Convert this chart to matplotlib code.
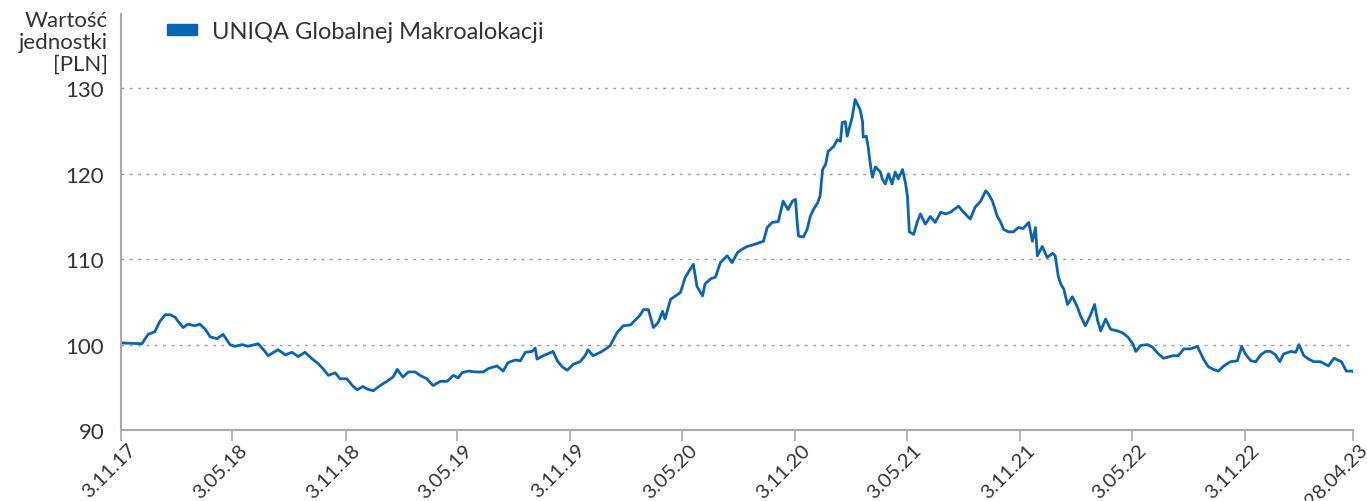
import matplotlib
matplotlib.use("Agg")
import matplotlib.pyplot as plt
import matplotlib.transforms as mtransforms
import pandas as pd

plt.rcParams['font.family'] = ['Lato', 'DejaVu Sans']

# fund unit value (days since 3.11.2017, PLN)
start_date = "2017-11-03"
day_offsets = [
    0, 34, 44, 55, 63, 72, 80, 88, 93, 101, 109, 120, 128, 137, 145, 156, 166,
    177, 185, 197, 206, 223, 234, 239, 255, 267, 278, 288, 299, 311, 320, 328,
    337, 348, 356, 367, 376, 384, 393, 400, 410, 421, 432, 442, 449, 458, 467,
    478, 486, 497, 507, 519, 530, 540, 548, 554, 564, 576, 589, 597, 611, 621,
    629, 641, 649, 657, 668, 673, 676, 686, 693, 702, 709, 717, 725, 735, 746,
    754, 759, 767, 779, 792, 795, 806, 816, 828, 836, 844, 849, 857, 865, 873,
    880, 884, 893, 901, 909, 917, 923, 930, 936, 945, 949, 958, 966, 974, 985,
    993, 1002, 1010, 1018, 1028, 1036, 1044, 1050, 1058, 1068, 1076, 1084, 1091,
    1096, 1099, 1101, 1109, 1115, 1120, 1125, 1132, 1136, 1140, 1145, 1149,
    1158, 1164, 1169, 1172, 1177, 1180, 1185, 1188, 1193, 1197, 1201, 1205,
    1206, 1211, 1214, 1218, 1221, 1226, 1234, 1237, 1242, 1247, 1253, 1258,
    1263, 1270, 1275, 1278, 1281, 1288, 1294, 1299, 1307, 1315, 1323, 1332,
    1340, 1348, 1353, 1361, 1369, 1380, 1388, 1397, 1405, 1410, 1416, 1424,
    1429, 1434, 1442, 1450, 1458, 1466, 1475, 1481, 1486, 1489, 1497, 1505,
    1514, 1518, 1523, 1527, 1532, 1538, 1546, 1554, 1559, 1567, 1575, 1582,
    1587, 1592, 1600, 1608, 1619, 1627, 1636, 1644, 1649, 1657, 1668, 1676,
    1686, 1694, 1709, 1718, 1727, 1738, 1749, 1759, 1767, 1775, 1783, 1792,
    1803, 1814, 1821, 1827, 1836, 1844, 1852, 1860, 1868, 1876, 1883, 1889,
    1901, 1909, 1914, 1922, 1930, 1938, 1949, 1962, 1971, 1983, 1991, 2000, 2003,
]
unit_values = [
    100.2, 100.1, 101.2, 101.5, 102.7, 103.5, 103.5, 103.2, 102.7, 102.0, 102.4,
    102.2, 102.4, 101.8, 100.9, 100.7, 101.2, 100.0, 99.8, 100.0, 99.8, 100.1,
    99.2, 98.7, 99.4, 98.8, 99.1, 98.6, 99.1, 98.3, 97.8, 97.2, 96.4, 96.7, 96.0,
    96.0, 95.2, 94.7, 95.1, 94.8, 94.6, 95.2, 95.7, 96.2, 97.1, 96.2, 96.8, 96.8,
    96.4, 96.0, 95.2, 95.7, 95.7, 96.4, 96.1, 96.7, 96.9, 96.8, 96.8, 97.2, 97.5,
    96.9, 97.9, 98.2, 98.1, 99.1, 99.2, 99.6, 98.3, 98.7, 98.9, 99.2, 98.1, 97.4,
    97.0, 97.7, 98.0, 98.7, 99.4, 98.7, 99.1, 99.7, 99.9, 101.4, 102.2, 102.3,
    102.9, 103.5, 104.1, 104.1, 102.0, 102.6, 103.9, 103.0, 105.3, 105.7, 106.1,
    107.9, 108.6, 109.4, 106.8, 105.7, 107.1, 107.7, 107.9, 109.6, 110.4, 109.6,
    110.8, 111.2, 111.5, 111.7, 111.9, 112.1, 113.7, 114.3, 114.4, 116.8, 115.8,
    116.8, 117.0, 114.1, 112.7, 112.6, 113.5, 115.0, 115.8, 116.6, 117.4, 120.5,
    121.1, 122.6, 123.2, 124.0, 123.8, 126.0, 126.1, 124.4, 125.8, 126.6, 128.7,
    128.1, 127.5, 126.1, 124.3, 124.4, 123.2, 120.9, 119.6, 120.8, 120.2, 119.4,
    118.8, 120.0, 118.8, 120.2, 119.4, 120.5, 118.8, 117.3, 113.2, 112.9, 114.4,
    115.3, 114.1, 115.0, 114.3, 115.5, 115.3, 115.5, 115.8, 116.2, 115.5, 114.7,
    116.1, 116.8, 118.0, 117.6, 116.8, 115.0, 114.4, 113.5, 113.2, 113.2, 113.7,
    113.6, 114.3, 112.1, 113.7, 110.4, 111.5, 110.2, 110.7, 110.4, 108.0, 107.1,
    106.5, 104.7, 105.6, 104.4, 103.4, 102.2, 103.4, 104.7, 102.8, 101.6, 103.0,
    101.8, 101.6, 101.4, 100.9, 100.1, 99.2, 99.9, 100.0, 99.7, 98.9, 98.4, 98.7,
    98.7, 99.5, 99.5, 99.8, 98.3, 97.4, 97.1, 96.9, 97.5, 98.0, 98.1, 99.8, 98.9,
    98.1, 98.0, 98.8, 99.2, 99.2, 98.8, 98.0, 98.9, 99.2, 99.1, 100.0, 98.7,
    98.3, 98.0, 98.0, 97.5, 98.4, 98.0, 96.9, 96.9, 96.8,
]
tick_dates = ["2017-11-03", "2018-05-03", "2018-11-03", "2019-05-03",
              "2019-11-03", "2020-05-03", "2020-11-03", "2021-05-03",
              "2021-11-03", "2022-05-03", "2022-11-03", "2023-04-28"]
y_ticks = [90, 100, 110, 120, 130]
series_name = "UNIQA Globalnej Makroalokacji"

dates = pd.Timestamp(start_date) + pd.to_timedelta(day_offsets, unit="D")
ticks = pd.to_datetime(tick_dates)

blue = "#0a64b4"
axis_grey = "#aaaaaa"
text_col = "#333333"

fig = plt.figure(figsize=(13.67, 5.02), dpi=100)
ax = fig.add_axes([0.0885, 0.1414, 0.9013, 0.8286])

ax.plot(dates, unit_values, color=blue, linewidth=2.0, solid_joinstyle="round")

ax.set_xlim(ticks[0], ticks[-1])
ax.set_ylim(90, 138.7)
ax.set_yticks(y_ticks)
ax.set_xticks(ticks)
ax.set_xticklabels([f"{t.day}.{t.month:02d}.{t.strftime('%y')}" for t in ticks],
                   rotation=45, ha="right", va="center", rotation_mode="anchor")

ax.grid(axis="y", color="#999999", linestyle=(0, (2, 4)), linewidth=1)
for s in ["top", "right"]:
    ax.spines[s].set_visible(False)
for s in ["left", "bottom"]:
    ax.spines[s].set_color(axis_grey)
    ax.spines[s].set_linewidth(1.5)

ax.tick_params(axis="y", length=0, pad=12, labelsize=16, labelcolor=text_col)
ax.tick_params(axis="x", length=8, width=1.2, color=axis_grey, pad=4,
               labelsize=14.5, labelcolor=text_col)

# shift the rotated labels a bit to the right, like the original
shift = mtransforms.ScaledTranslation(12 / 100, 0, fig.dpi_scale_trans)
for lab in ax.get_xticklabels():
    lab.set_transform(lab.get_transform() + shift)

fig.text(0.079, 0.978, "Wartość\njednostki\n[PLN]", ha="right", va="top",
         fontsize=16, color=text_col, linespacing=1.1)

ax.legend([plt.Rectangle((0, 0), 1, 1, color=blue)], [series_name],
          loc="upper left", bbox_to_anchor=(0.0205, 1.035), frameon=False,
          fontsize=17, handlelength=1.27, handleheight=0.35, handletextpad=0.6,
          labelcolor=text_col)

fig.savefig("out.png", dpi=100)
